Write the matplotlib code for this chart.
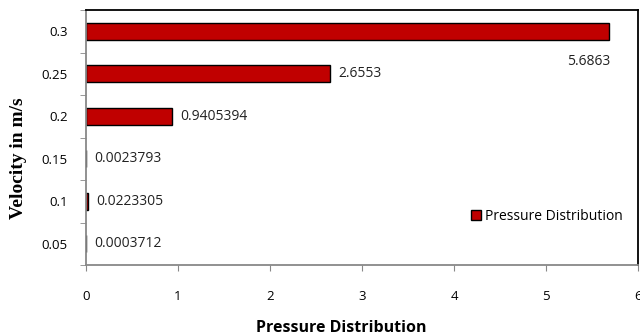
import matplotlib.pyplot as plt
import numpy as np

velocity = ["0.05", "0.1", "0.15", "0.2", "0.25", "0.3"]
pressure = [0.0003712, 0.0223305, 0.0023793, 0.9405394, 2.6553, 5.6863]
value_labels = ["0.0003712", "0.0223305", "0.0023793", "0.9405394", "2.6553", "5.6863"]

plt.rcParams['font.family'] = ['Open Sans', 'DejaVu Sans']

fig = plt.figure(figsize=(6.4, 3.36), dpi=100)
ax = fig.add_axes([0.134, 0.211, 0.863, 0.759])

y = np.arange(len(velocity))
ax.barh(y, pressure, height=0.4, color="#C00000", edgecolor="black",
        linewidth=1.0, label="Pressure Distribution")

ax.set_xlim(0, 6)
ax.set_ylim(-0.5, len(velocity) - 0.5)

for i, (v, s) in enumerate(zip(pressure, value_labels)):
    if v > 5:
        ax.annotate(s, (v, i), xytext=(-30, -22), textcoords="offset points",
                    va="center", fontsize=10, color="#222222")
    else:
        ax.annotate(s, (v, i), xytext=(6, 0), textcoords="offset points",
                    va="center", fontsize=10, color="#222222")

ax.set_yticks(y)
ax.set_yticklabels(velocity, fontsize=9.5)
ax.set_yticks(np.arange(-0.5, len(velocity)), minor=True)
ax.tick_params(axis="y", which="major", length=0, pad=13)
ax.tick_params(axis="y", which="minor", length=4, direction="out", color="#888888")

ax.set_xticks(range(7))
ax.tick_params(axis="x", length=4, direction="out", color="#888888", pad=14, labelsize=9.5)

for side in ["top", "right"]:
    ax.spines[side].set_color("black")
    ax.spines[side].set_linewidth(1.3)
for side in ["left", "bottom"]:
    ax.spines[side].set_color("#888888")
    ax.spines[side].set_linewidth(1.3)

ax.set_xlabel("Pressure Distribution", fontsize=11.5, fontweight="bold")
ax.xaxis.set_label_coords(0.462, -0.215)
ax.set_ylabel("Velocity in m/s", fontsize=14, fontweight="bold",
              family="Liberation Serif")
ax.yaxis.set_label_coords(-0.107, 0.42)

ax.legend(loc="center right", bbox_to_anchor=(0.995, 0.19), frameon=False,
          fontsize=10, handlelength=0.7, handleheight=0.7, handletextpad=0.3)

fig.savefig("out.png", dpi=100)
